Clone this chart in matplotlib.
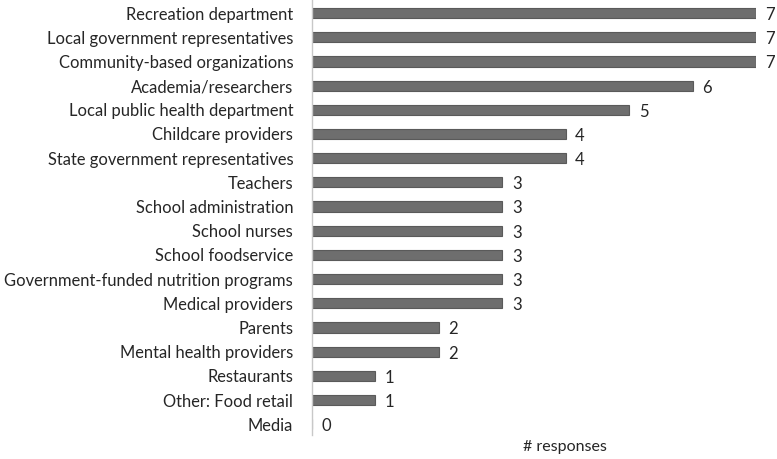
import matplotlib.pyplot as plt

categories = ['Recreation department', 'Local government representatives',
              'Community-based organizations', 'Academia/researchers',
              'Local public health department', 'Childcare providers',
              'State government representatives', 'Teachers',
              'School administration', 'School nurses', 'School foodservice',
              'Government-funded nutrition programs', 'Medical providers',
              'Parents', 'Mental health providers', 'Restaurants',
              'Other: Food retail', 'Media']
responses = [7, 7, 7, 6, 5, 4, 4, 3, 3, 3, 3, 3, 3, 2, 2, 1, 1, 0]

plt.rcParams['font.family'] = ['Lato', 'DejaVu Sans']

fig = plt.figure(figsize=(7.77, 4.59), dpi=100)
ax = fig.add_axes([0.4015, 0.052, 0.973 - 0.4015, 0.948])

ypos = list(range(len(categories)))
ax.barh(ypos, responses, height=0.42, color='#6e6e6e', edgecolor='#5a5a5a', linewidth=0.8)
for y, v in zip(ypos, responses):
    ax.text(v + 0.15, y + 0.08, str(v), va='center', ha='left', fontsize=12, color='#262626')

ax.set_xlim(0, 7)
ax.set_ylim(17.45, -0.54)
ax.set_yticks(ypos)
ax.set_yticklabels(categories, fontsize=11.9, color='#262626')
ax.tick_params(axis='y', length=0, pad=13.5)
ax.set_xticks([])
for s in ['top', 'right', 'bottom']:
    ax.spines[s].set_visible(False)
ax.spines['left'].set_color('#c8c8c8')
ax.spines['left'].set_linewidth(1)

fig.text(565 / 777, 1 - 447 / 459, '# responses', ha='center', va='center',
         fontsize=11.5, color='#262626')

fig.savefig('out.png', dpi=100)
